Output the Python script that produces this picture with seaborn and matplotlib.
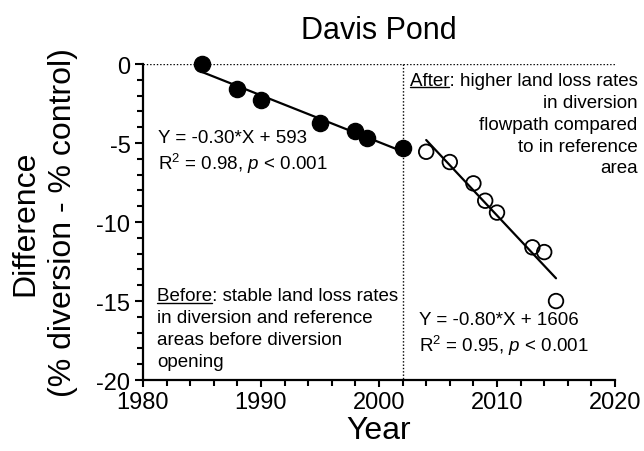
import numpy as np
import pandas as pd
import matplotlib
matplotlib.use("Agg")
import matplotlib.pyplot as plt
import seaborn as sns
from matplotlib.ticker import MultipleLocator
from matplotlib.lines import Line2D

# Land-area difference (diversion minus control), Davis Pond
before_years = [1985, 1988, 1990, 1995, 1998, 1999, 2002]
before_diff = [0.0, -1.6, -2.3, -3.75, -4.25, -4.65, -5.3]
after_years = [2004, 2006, 2008, 2009, 2010, 2013, 2014, 2015]
after_diff = [-5.55, -6.2, -7.55, -8.65, -9.4, -11.6, -11.9, -15.0]
opening_year = 2002

x_ticks = [1980, 1990, 2000, 2010, 2020]
y_ticks = [0, -5, -10, -15, -20]

before = pd.DataFrame({"Year": before_years, "Difference": before_diff})
after = pd.DataFrame({"Year": after_years, "Difference": after_diff})

sns.set_style("ticks")
plt.rcParams["font.family"] = ["Liberation Sans", "DejaVu Sans"]
plt.rcParams["mathtext.fontset"] = "custom"
plt.rcParams["mathtext.rm"] = "Liberation Sans"
plt.rcParams["mathtext.it"] = "Liberation Sans:italic"
plt.rcParams["axes.unicode_minus"] = False
plt.rcParams["text.color"] = "black"
plt.rcParams["axes.labelcolor"] = "black"

fig = plt.figure(figsize=(6.44, 4.52), dpi=100)
ax = fig.add_axes([0.222, 0.157, 0.733, 0.699])

dot = (0, (1, 1.4))
ax.axhline(0, color="black", lw=1, ls=dot, zorder=1)
ax.plot([opening_year, opening_year], [0, -20], color="black", lw=1, ls=dot, zorder=1)

sns.regplot(data=before, x="Year", y="Difference", ax=ax, ci=None, truncate=True,
            color="black",
            scatter_kws={"s": 135, "alpha": 1, "clip_on": False, "zorder": 4},
            line_kws={"lw": 1.6, "zorder": 3})
sns.regplot(data=after, x="Year", y="Difference", ax=ax, ci=None, truncate=True,
            color="black",
            scatter_kws={"s": 110, "alpha": 1, "facecolors": "none",
                         "edgecolors": "black", "linewidths": 1.3, "zorder": 4},
            line_kws={"lw": 1.6, "zorder": 3})

ax.set_xlim(1980, 2020)
ax.set_ylim(-20, 0)
ax.set_xticks(x_ticks)
ax.set_yticks(y_ticks)
ax.xaxis.set_minor_locator(MultipleLocator(2))
ax.yaxis.set_minor_locator(MultipleLocator(1))
ax.tick_params(axis="both", which="major", labelsize=17, width=1.5, length=6, pad=3,
               color="black", labelcolor="black")
ax.tick_params(axis="both", which="minor", width=1.5, length=4, color="black")
ax.tick_params(axis="x", which="major", length=5)

sns.despine(ax=ax)
for side in ("left", "bottom"):
    ax.spines[side].set_linewidth(1.6)
    ax.spines[side].set_color("black")

ax.set_xlabel("Year", fontsize=23, labelpad=1, color="black")
ax.set_ylabel("Difference\n(% diversion - % control)", fontsize=23, labelpad=13,
              linespacing=1.35, color="black")
ax.set_title("Davis Pond", fontsize=22, pad=19, color="black")

fs = 13.5
ax.text(1981.3, -5.55, "Y = -0.30*X + 593\nR$^2$ = 0.98, $p$ < 0.001",
        fontsize=fs, ha="left", va="center", linespacing=1.25)
ax.text(2003.4, -17.1, "Y = -0.80*X + 1606\nR$^2$ = 0.95, $p$ < 0.001",
        fontsize=fs, ha="left", va="center", linespacing=1.25)
after_note = ax.text(2021.9, -3.8,
                     "After: higher land loss rates\nin diversion\n"
                     "flowpath compared\nto in reference\narea",
                     fontsize=fs, ha="right", va="center", multialignment="right",
                     linespacing=1.38, clip_on=False)
before_note = ax.text(1981.2, -16.75,
                      "Before: stable land loss rates\nin diversion and reference\n"
                      "areas before diversion\nopening",
                      fontsize=fs, ha="left", va="center", linespacing=1.38)


def underline_lead_word(note, word):
    """Underline the first word of a multi-line note whose first line is its widest."""
    renderer = fig.canvas.get_renderer()
    box = note.get_window_extent(renderer)
    probe = fig.text(0, 0, word, fontsize=note.get_fontsize(),
                     fontfamily=note.get_fontfamily())
    wbox = probe.get_window_extent(renderer)
    probe.remove()
    line_h = wbox.height
    px = note.get_fontsize() * fig.dpi / 72.0
    y = box.y1 - line_h + 0.08 * px
    x0, x1 = box.x0, box.x0 + wbox.width
    inv = fig.transFigure.inverted()
    (fx0, fy), (fx1, _) = inv.transform([(x0, y), (x1, y)])
    fig.add_artist(Line2D([fx0, fx1], [fy, fy], color="black", lw=1.0))


fig.canvas.draw()
underline_lead_word(after_note, "After")
underline_lead_word(before_note, "Before")

fig.savefig("out.png", dpi=100)
